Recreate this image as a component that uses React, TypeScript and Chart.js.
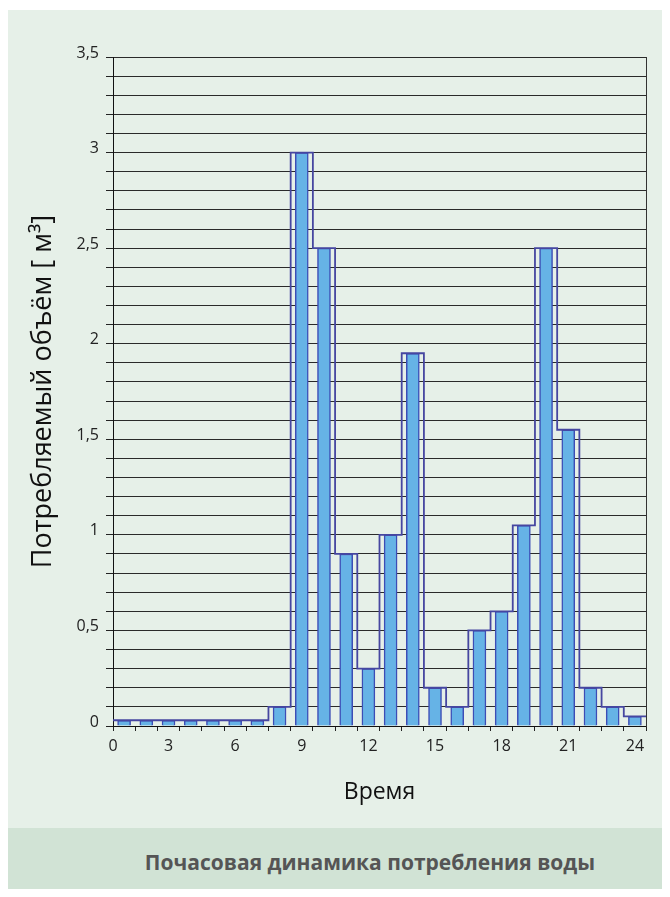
import React, { useEffect, useRef } from 'react';
import { Chart, registerables } from 'chart.js';

Chart.register(...registerables);

// ---- data ----
const hours: number[] = [1, 2, 3, 4, 5, 6, 7, 8, 9, 10, 11, 12, 13, 14, 15, 16, 17, 18, 19, 20, 21, 22, 23, 24];
const volumes: number[] = [0.03, 0.03, 0.03, 0.03, 0.03, 0.03, 0.03, 0.1, 3.0, 2.5, 0.9, 0.3, 1.0, 1.95, 0.2, 0.1, 0.5, 0.6, 1.05, 2.5, 1.55, 0.2, 0.1, 0.05];
const xTickLabels: number[] = [0, 3, 6, 9, 12, 15, 18, 21, 24];
const yMax = 3.5;
const yStep = 0.1;
const yLabelStep = 0.5;

const yTitle = 'Потребляемый объём [ м³]';
const xTitle = 'Время';
const chartTitle = 'Почасовая динамика потребления воды';

const FONT = '"Open Sans", "Noto Sans", "DejaVu Sans", sans-serif';

export default function App() {
  const ref = useRef<HTMLCanvasElement | null>(null);

  useEffect(() => {
    document.documentElement.style.overflow = 'hidden';
    document.body.style.overflow = 'hidden';
    const canvas = ref.current;
    if (!canvas) return;

    const labelPos = new Map<number, string>();
    xTickLabels.forEach((l) => labelPos.set(l === 0 ? 0 : l - 0.5, String(l)));

    const stepData = volumes.map((v, i) => ({ x: i, y: v }));
    stepData.push({ x: hours.length, y: volumes[volumes.length - 1] });

    const chart = new Chart(canvas, {
      type: 'bar',
      data: {
        datasets: [
          {
            type: 'line',
            data: stepData,
            stepped: true,
            borderColor: '#4646a0',
            borderWidth: 1.8,
            pointRadius: 0,
            fill: false,
            order: 0,
          } as any,
          {
            type: 'bar',
            data: hours.map((h, i) => ({ x: h - 0.5, y: volumes[i] })),
            backgroundColor: '#66b3e6',
            borderColor: '#3c4db6',
            borderWidth: 1.5,
            barThickness: 13,
            order: 1,
          } as any,
        ],
      },
      options: {
        responsive: false,
        animation: false,
        layout: { padding: { top: 47, right: 24, bottom: 0, left: 0 } },
        plugins: { legend: { display: false }, tooltip: { enabled: false } },
        scales: {
          x: {
            type: 'linear',
            position: 'bottom',
            offset: false,
            min: 0,
            max: hours.length,
            afterBuildTicks: (s: any) => {
              const vals: number[] = [];
              for (let i = 0; i <= hours.length; i++) vals.push(i);
              labelPos.forEach((_, k) => { if (!Number.isInteger(k)) vals.push(k); });
              vals.sort((a, b) => a - b);
              s.ticks = vals.map((v) => ({ value: v }));
            },
            afterFit: (s: any) => { s.height = 102; },
            grid: {
              offset: false,
              drawOnChartArea: false,
              tickLength: 5,
              tickColor: (ctx: any) => (ctx.tick && Number.isInteger(ctx.tick.value) ? '#222' : 'rgba(0,0,0,0)'),
            },
            border: { color: '#111', width: 1 },
            ticks: {
              autoSkip: false,
              maxRotation: 0,
              padding: 6,
              font: { family: FONT, size: 16 },
              color: '#222',
              callback: (v: any) => labelPos.get(Number(v)) ?? '',
            },
            title: {
              display: true,
              text: xTitle,
              font: { family: FONT, size: 23 },
              color: '#111',
              padding: { top: 0, bottom: 22 },
            },
          },
          y: {
            position: 'left',
            min: 0,
            max: yMax,
            afterBuildTicks: (s: any) => {
              const n = Math.round(yMax / yStep);
              const t: any[] = [];
              for (let i = 0; i <= n; i++) t.push({ value: Math.round(i * yStep * 10) / 10 });
              s.ticks = t;
            },
            afterFit: (s: any) => { s.width = 105; },
            grid: { color: '#2a2a2a', lineWidth: 1, tickLength: 7, tickColor: '#222' },
            border: { color: '#111', width: 1 },
            ticks: {
              autoSkip: false,
              padding: 7,
              labelOffset: -4,
              font: { family: FONT, size: 16 },
              color: '#222',
              callback: (v: any) => {
                const n = Number(v);
                const r = Math.round(n / yLabelStep * 1000) / 1000;
                return Number.isInteger(r) ? String(n).replace('.', ',') : '';
              },
            },
            title: {
              display: true,
              text: yTitle,
              font: { family: FONT, size: 27 },
              color: '#111',
              padding: { top: 19, bottom: 0 },
            },
          },
          y2: {
            position: 'right',
            min: 0,
            max: yMax,
            grid: { drawOnChartArea: false, drawTicks: false },
            ticks: { display: false },
            border: { display: true, color: '#333', width: 1 },
            afterFit: (s: any) => { s.width = 0; },
          },
        },
      } as any,
    });

    return () => chart.destroy();
  }, []);

  return (
    <div style={{ paddingTop: 2 }}>
      <div style={{ width: 662, background: '#e6f0e8', marginBottom: -8 }}>
        <canvas ref={ref} width={662} height={818} style={{ display: 'block', width: 662, height: 818 }} />
        <div
          style={{
            height: 69,
            lineHeight: '69px',
            background: '#d1e3d5',
            color: '#555',
            fontFamily: FONT,
            fontWeight: 700,
            fontSize: 21,
            textAlign: 'center',
            paddingLeft: 62,
            boxSizing: 'border-box',
            whiteSpace: 'nowrap',
          }}
        >
          {chartTitle}
        </div>
      </div>
    </div>
  );
}
